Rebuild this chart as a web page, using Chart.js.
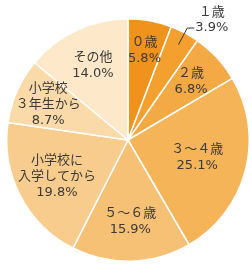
<!DOCTYPE html>
<html>
<head>
<meta charset="utf-8">
<script src="https://cdn.jsdelivr.net/npm/chart.js@4"></script>
<style>
  html, body { margin: 0; padding: 0; background: #fff; }
  #c { display: block; }
</style>
</head>
<body>
<canvas id="c" width="252" height="268"></canvas>
<script>
const labels = ['０歳', '１歳', '２歳', '３～４歳', '５～６歳', '小学校に\n入学してから', '小学校\n３年生から', 'その他'];
const values = [5.8, 3.9, 6.8, 25.1, 15.9, 19.8, 8.7, 14.0];
const colors = ['#F0931D', '#F3A02E', '#F4AA44', '#F5B458', '#F6C075', '#F8CC8C', '#FADAA8', '#FDE8CA'];
// where the label sits, as a fraction of the radius
const labelPos = [0.75, 0, 0.71, 0.59, 0.67, 0.66, 0.72, 0.68];

const FONT = '13px "DejaVu Sans", "Noto Sans CJK JP", sans-serif';

const labelPlugin = {
  id: 'sliceLabels',
  afterDatasetsDraw(chart) {
    const ctx = chart.ctx;
    const meta = chart.getDatasetMeta(0);
    ctx.save();
    ctx.font = FONT;
    ctx.fillStyle = '#3a3a3a';
    ctx.textBaseline = 'middle';
    meta.data.forEach((arc, i) => {
      const p = arc.getProps(['x', 'y', 'startAngle', 'endAngle', 'outerRadius']);
      const mid = (p.startAngle + p.endAngle) / 2;
      const lines = labels[i].split('\n').concat([values[i].toFixed(1) + '%']);
      if (i === 1) {
        // small slice: label outside with a leader line
        const a = p.outerRadius * 0.89, b = p.outerRadius * 1.045;
        const x1 = p.x + Math.cos(mid) * a, y1 = p.y + Math.sin(mid) * a;
        const x2 = p.x + Math.cos(mid) * b, y2 = p.y + Math.sin(mid) * b;
        ctx.strokeStyle = '#333';
        ctx.lineWidth = 1;
        ctx.beginPath();
        ctx.moveTo(x1, y1);
        ctx.lineTo(x2, y2);
        ctx.lineTo(x2 + 7, y2);
        ctx.stroke();
        ctx.textAlign = 'center';
        const tx = x2 + 8 + ctx.measureText(lines[1]).width / 2;
        ctx.fillText(lines[0], tx, y2 - 15);
        ctx.fillText(lines[1], tx, y2);
        return;
      }
      const r = p.outerRadius * labelPos[i];
      const cx = p.x + Math.cos(mid) * r;
      const cy = p.y + Math.sin(mid) * r;
      const lh = 16;
      ctx.textAlign = 'center';
      lines.forEach((t, k) => {
        ctx.fillText(t, cx, cy + (k - (lines.length - 1) / 2) * lh);
      });
    });
    ctx.restore();
  }
};

new Chart(document.getElementById('c'), {
  type: 'pie',
  data: {
    labels: labels,
    datasets: [{
      data: values,
      backgroundColor: colors,
      borderColor: '#fff',
      borderWidth: 1.5
    }]
  },
  options: {
    responsive: false,
    animation: false,
    layout: { padding: { left: 6, right: 2, top: 18, bottom: 6 } },
    plugins: {
      legend: { display: false },
      tooltip: { enabled: false }
    }
  },
  plugins: [labelPlugin]
});
</script>
</body>
</html>
